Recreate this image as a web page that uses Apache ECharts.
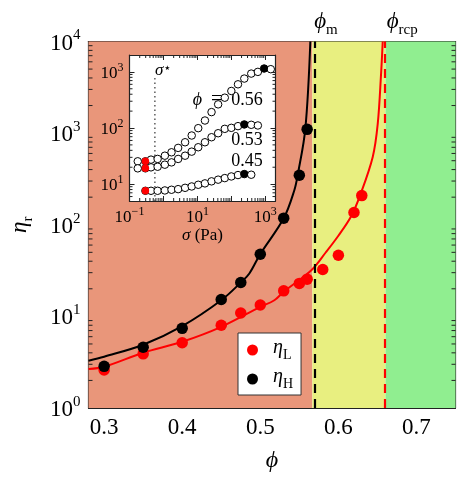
<!DOCTYPE html>
<html><head><meta charset="utf-8">
<script src="https://cdn.jsdelivr.net/npm/echarts@6.0.0/dist/echarts.min.js"></script>
<style>html,body{margin:0;padding:0;background:#fff;}#chart{width:471px;height:486px;}</style>
</head><body><div id="chart"></div>
<script>
// ---------------- data ----------------
const phiL = [0.30, 0.35, 0.40, 0.45, 0.475, 0.50, 0.53, 0.55, 0.56, 0.58, 0.60, 0.62, 0.63];
const etaL = [2.6, 3.9, 5.15, 8.0, 10.9, 13.3, 19.0, 22.9, 25.5, 32.5, 46.5, 136, 208];
const phiH = [0.30, 0.35, 0.40, 0.45, 0.475, 0.50, 0.53, 0.55, 0.56];
const etaH = [2.85, 4.6, 7.4, 15.3, 23.4, 47.7, 118, 347, 1100];
const phiFitH = [0.28, 0.30, 0.35, 0.40, 0.45, 0.475, 0.486, 0.50, 0.53, 0.5436, 0.548, 0.5577, 0.5641];
const etaFitH = [3.28, 3.63, 4.90, 7.83, 15.0, 23.4, 29.4, 47.9, 117.5, 238, 352, 1122, 10000];
const phiFitL = [0.28, 0.30, 0.35, 0.40, 0.45, 0.50, 0.518, 0.53, 0.5654, 0.584, 0.60, 0.6162, 0.6278, 0.644, 0.6504, 0.6547, 0.6568];
const etaFitL = [2.66, 2.82, 4.01, 5.28, 7.69, 12.7, 15.0, 18.6, 31.9, 50.1, 75.9, 123, 209, 550, 1259, 4467, 10000];
const phiM = 0.5667;
const phiRcp = 0.6603;
const xTickLabels = ['0.3', '0.4', '0.5', '0.6', '0.7'];
const yTickExps = [0, 1, 2, 3, 4];

// inset: eta vs sigma
const sigma = [0.175, 0.294, 0.43, 0.674, 1.10, 1.73, 2.71, 4.34, 6.8, 10.6, 16.7, 26.1, 40.9, 64.1, 100, 157, 241, 386, 605, 926, 1452];
const eta056 = [25.5, 25.5, 27.3, 28.1, 32.1, 36.9, 44.2, 55.7, 73.5, 99.3, 136, 192, 264, 347, 457, 601, 760, 933, 1000, 1148, 1117];
const eta053 = [19.1, 19.1, 19.9, 20.4, 22.2, 24.4, 28.1, 32.1, 37.9, 45.4, 55.7, 68.5, 80.7, 96.6, 100.7, 107.9, 115.6, 114, 111, null, null];
const eta045 = [null, 7.6, 7.6, 7.6, 7.71, 7.93, 8.13, 8.59, 9.08, 9.73, 10.3, 11.2, 12.0, 12.8, 13.7, 14.5, 15.1, 14.7, null, null, null];
const insetLabels = ['0.56', '0.53', '0.45'];
const lowIdx = 1;
const highIdx = [19, 16, 16];
const sigmaStar = 0.56;
const insetXTickExps = [-1, 1, 3];
const insetYTickExps = [1, 2, 3];

// ---------------- helpers ----------------
const FONT = "'Liberation Serif','DejaVu Serif',serif";
const X0 = 0.28, X1 = 0.75, Y0 = 1, Y1 = 10000;
const SX0 = 0.1, SX1 = 2000, SY0 = 5, SY1 = 2000;

function pairs(xs, ys) { const out = []; xs.forEach((x, i) => { if (ys[i] != null) out.push([x, ys[i]]); }); return out; }
function minorList(lo, hi) {
  const out = [];
  for (let d = 1e-3; d < 1e5; d *= 10) for (let m = 2; m <= 9; m++) { const v = m * d; if (v > lo * 1.0001 && v < hi * 0.9999) out.push(+v.toPrecision(3)); }
  return out;
}
function powLabel(allowed) {
  return function (v) {
    const l = Math.log10(v), e = Math.round(l);
    if (Math.abs(l - e) > 1e-6 || allowed.indexOf(e) < 0) return '';
    return '{b|10}{s|' + (e < 0 ? '\u2212' + (-e) : e) + '}';
  };
}
function richPow(bs, ss, raise) {
  return {
    b: { fontSize: bs, fontFamily: FONT, color: '#000', padding: [raise, 0, 0, 0] },
    s: { fontSize: ss, fontFamily: FONT, color: '#000', verticalAlign: 'top' }
  };
}
function richSub(gs, ss, drop) {
  return {
    g: { fontSize: gs, fontFamily: FONT, fontStyle: 'italic', color: '#000', padding: [0, 0, drop, 0] },
    s: { fontSize: ss, fontFamily: FONT, color: '#000', verticalAlign: 'bottom' },
    n: { fontSize: gs, fontFamily: FONT, color: '#000', padding: [0, 0, drop, 0] },
    e: { fontSize: gs + 2, fontFamily: FONT, color: '#000', padding: [0, 9, drop, 9] }
  };
}
const axisLine = { show: true, lineStyle: { color: '#222', width: 1.2 } };

function yMinorRender(xa, xb, len) {
  return function (params, api) {
    const v = api.value(1);
    const a = api.coord([xa, v]), b = api.coord([xb, v]);
    return { type: 'group', children: [
      { type: 'line', shape: { x1: a[0], y1: a[1], x2: a[0] + len, y2: a[1] }, style: { stroke: '#222', lineWidth: 1 } },
      { type: 'line', shape: { x1: b[0] - len, y1: b[1], x2: b[0], y2: b[1] }, style: { stroke: '#222', lineWidth: 1 } }
    ] };
  };
}
function xMinorRender(ya, yb, len) {
  return function (params, api) {
    const v = api.value(0);
    const a = api.coord([v, ya]), b = api.coord([v, yb]);
    return { type: 'group', children: [
      { type: 'line', shape: { x1: a[0], y1: a[1], x2: a[0], y2: a[1] - len }, style: { stroke: '#222', lineWidth: 1 } },
      { type: 'line', shape: { x1: b[0], y1: b[1], x2: b[0], y2: b[1] + len }, style: { stroke: '#222', lineWidth: 1 } }
    ] };
  };
}

const insetSets = [eta056, eta053, eta045];
const insetOpen = insetSets.map((arr, k) => ({
  type: 'scatter', xAxisIndex: 2, yAxisIndex: 2, z: 12, silent: true,
  symbol: 'circle', symbolSize: 7.5,
  itemStyle: { color: '#fff', borderColor: '#000', borderWidth: 1, opacity: 1 },
  data: pairs(sigma, arr),
  markPoint: {
    z: 11.5, symbol: 'circle', symbolSize: 0, silent: true,
    data: [{ coord: [843, [315, 61, 25.3][k]], label: { show: true, position: 'left', distance: 0,
      formatter: k === 0 ? '{g|\u03D5}{e|=}{n|' + insetLabels[k] + '}' : '{n|' + insetLabels[k] + '}',
      rich: richSub(18, 12, 0) } }]
  }
}));
const insetLow = { type: 'scatter', xAxisIndex: 2, yAxisIndex: 2, z: 13, silent: true, symbolSize: 7.5,
  itemStyle: { color: '#ff0000', opacity: 1 }, data: insetSets.map(a => [sigma[lowIdx], a[lowIdx]]) };
const insetHigh = { type: 'scatter', xAxisIndex: 2, yAxisIndex: 2, z: 13, silent: true, symbolSize: 7.5,
  itemStyle: { color: '#000', opacity: 1 }, data: insetSets.map((a, k) => [sigma[highIdx[k]], a[highIdx[k]]]) };

const option = {
  animation: false,
  backgroundColor: '#fff',
  grid: [
    { left: 88.5, top: 41.5, width: 367, height: 366.5, show: false },
    { left: 129.5, top: 55, width: 146, height: 146, show: true, backgroundColor: '#fff', borderWidth: 0, z: 10 }
  ],
  legend: {
    data: ['etaL', 'etaH'], orient: 'vertical', left: 238, top: 333,
    backgroundColor: '#fff', borderColor: '#333', borderWidth: 1, borderRadius: 0,
    padding: [5, 8, 4, 9], itemGap: 5, itemWidth: 11, itemHeight: 11, icon: 'circle',
    formatter: n => n === 'etaL' ? '{g|\u03B7}{s|L}' : '{g|\u03B7}{s|H}',
    textStyle: { rich: richSub(20, 14, 4), padding: [0, 0, 0, 10] }
  },
  xAxis: [
    { type: 'value', gridIndex: 0, min: X0, max: X1, position: 'bottom', axisLine,
      axisTick: { show: true, inside: true, length: 7, lineStyle: { color: '#222' } },
      splitLine: { show: false },
      axisLabel: { margin: 8, fontFamily: FONT, fontSize: 23, color: '#000',
        formatter: v => { const s = v.toFixed(1); return (Math.abs(v * 10 - Math.round(v * 10)) < 1e-6 && xTickLabels.indexOf(s) >= 0) ? s : ''; } },
      name: '\u03D5', nameLocation: 'middle', nameGap: 41,
      nameTextStyle: { fontFamily: FONT, fontStyle: 'italic', fontSize: 24, color: '#000' } },
    { type: 'value', gridIndex: 0, min: X0, max: X1, position: 'top', axisLine,
      axisTick: { show: true, inside: true, length: 7, lineStyle: { color: '#222' } },
      splitLine: { show: false }, axisLabel: { show: false } },
    { type: 'log', gridIndex: 1, min: SX0, max: SX1, logBase: 10, position: 'bottom', z: 11, axisLine,
      axisTick: { show: true, inside: true, length: 5, lineStyle: { color: '#222' } },
      splitLine: { show: false },
      axisLabel: { margin: 5, formatter: powLabel(insetXTickExps), rich: richPow(17, 12, 3) },
      name: '{g|\u03C3}{n| (Pa)}', nameLocation: 'middle', nameGap: 22,
      nameTextStyle: { rich: richSub(17, 12, 0) } },
    { type: 'log', gridIndex: 1, min: SX0, max: SX1, logBase: 10, position: 'top', z: 11, axisLine,
      axisTick: { show: true, inside: true, length: 5, lineStyle: { color: '#222' } },
      splitLine: { show: false }, axisLabel: { show: false } }
  ],
  yAxis: [
    { type: 'log', gridIndex: 0, min: Y0, max: Y1, logBase: 10, position: 'left', axisLine,
      axisTick: { show: true, inside: true, length: 7, lineStyle: { color: '#222' } },
      splitLine: { show: false },
      axisLabel: { margin: 8, formatter: powLabel(yTickExps), rich: richPow(23, 15, 4) },
      name: '{g|\u03B7}{s|r}', nameLocation: 'middle', nameGap: 53, nameRotate: 90,
      nameTextStyle: { rich: richSub(23, 15, 4) } },
    { type: 'log', gridIndex: 0, min: Y0, max: Y1, logBase: 10, position: 'right', axisLine,
      axisTick: { show: true, inside: true, length: 7, lineStyle: { color: '#222' } },
      splitLine: { show: false }, axisLabel: { show: false } },
    { type: 'log', gridIndex: 1, min: SY0, max: SY1, logBase: 10, position: 'left', z: 11, axisLine,
      axisTick: { show: true, inside: true, length: 5, lineStyle: { color: '#222' } },
      splitLine: { show: false },
      axisLabel: { margin: 6, formatter: powLabel(insetYTickExps), rich: richPow(17, 12, 3) } },
    { type: 'log', gridIndex: 1, min: SY0, max: SY1, logBase: 10, position: 'right', z: 11, axisLine,
      axisTick: { show: true, inside: true, length: 5, lineStyle: { color: '#222' } },
      splitLine: { show: false }, axisLabel: { show: false } }
  ],
  series: [
    { name: 'bg', type: 'line', xAxisIndex: 0, yAxisIndex: 0, data: [], silent: true,
      markArea: { silent: true, z: 1, data: [
        [{ xAxis: X0, itemStyle: { color: '#E9967A' } }, { xAxis: phiM }],
        [{ xAxis: phiM, itemStyle: { color: '#E8EF80' } }, { xAxis: phiRcp }],
        [{ xAxis: phiRcp, itemStyle: { color: '#90EE90' } }, { xAxis: X1 }]
      ] },
      markLine: { silent: true, symbol: ['none', 'none'], z: 5, data: [
        { xAxis: phiM, lineStyle: { color: '#000', width: 2.2, type: [9, 6] },
          label: { show: true, position: 'end', distance: 4, offset: [11, 0], formatter: '{g|\u03D5}{s|m}', rich: richSub(23, 15, 4) } },
        { xAxis: phiRcp, lineStyle: { color: '#ff0000', width: 2.2, type: [9, 6] },
          label: { show: true, position: 'end', distance: 4, offset: [17, 0], formatter: '{g|\u03D5}{s|rcp}', rich: richSub(23, 15, 4) } }
      ] } },
    { name: 'fitH', type: 'line', xAxisIndex: 0, yAxisIndex: 0, data: pairs(phiFitH, etaFitH), smooth: 0.35,
      showSymbol: false, lineStyle: { color: '#000', width: 2 }, z: 3, silent: true, clip: true },
    { name: 'fitL', type: 'line', xAxisIndex: 0, yAxisIndex: 0, data: pairs(phiFitL, etaFitL), smooth: 0.35,
      showSymbol: false, lineStyle: { color: '#ff0000', width: 2 }, z: 3, silent: true, clip: true },
    { name: 'etaL', type: 'scatter', xAxisIndex: 0, yAxisIndex: 0, data: pairs(phiL, etaL), symbolSize: 11.5,
      itemStyle: { color: '#ff0000', opacity: 1 }, z: 4 },
    { name: 'etaH', type: 'scatter', xAxisIndex: 0, yAxisIndex: 0, data: pairs(phiH, etaH), symbolSize: 11.5,
      itemStyle: { color: '#000', opacity: 1 }, z: 4 },
    { name: 'minorMainY', type: 'custom', xAxisIndex: 0, yAxisIndex: 0, z: 6, silent: true,
      renderItem: yMinorRender(X0, X1, 4), data: minorList(Y0, Y1).map(v => [X0, v]) },
    ...insetOpen, insetLow, insetHigh,
    { name: 'sigmaStar', type: 'line', xAxisIndex: 2, yAxisIndex: 2, z: 11, silent: true, showSymbol: false,
      data: [[sigmaStar, SY0], [sigmaStar, 811]], lineStyle: { color: '#333', width: 1.2, type: [1.5, 3] },
      markPoint: { z: 13, symbol: 'circle', symbolSize: 0, silent: true,
        data: [{ coord: [sigmaStar, 1038], label: { show: true, position: 'right', distance: 0,
          formatter: '{g|\u03C3}{t|\u22C6}', rich: Object.assign(richSub(17, 12, 0), { t: { fontSize: 13, fontFamily: "'DejaVu Sans',sans-serif", color: '#000', verticalAlign: 'top' } }) } }] } },
    { name: 'minorInsetY', type: 'custom', xAxisIndex: 2, yAxisIndex: 2, z: 12, silent: true,
      renderItem: yMinorRender(SX0, SX1, 3), data: minorList(SY0, SY1).map(v => [SX0, v]) },
    { name: 'minorInsetX', type: 'custom', xAxisIndex: 2, yAxisIndex: 2, z: 12, silent: true,
      renderItem: xMinorRender(SY0, SY1, 3), data: minorList(SX0, SX1).map(v => [v, SY0]) }
  ]
};
const chart = echarts.init(document.getElementById('chart'), null, { renderer: 'canvas' });
chart.setOption(option);
</script></body></html>
